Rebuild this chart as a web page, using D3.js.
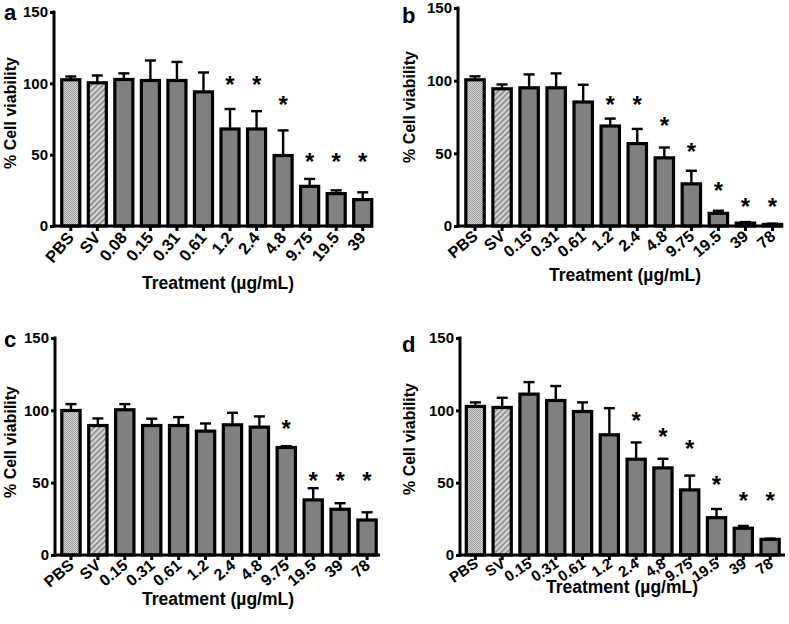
<!DOCTYPE html>
<html>
<head>
<meta charset="utf-8">
<script src="https://cdn.jsdelivr.net/npm/d3@7"></script>
<style>
  body { margin: 0; background: #fff; }
  svg { display: block; }
</style>
</head>
<body>
<script>
// ---- data ----
const yTicks = [0, 50, 100, 150]

const catsA = ['PBS', 'SV', '0.08', '0.15', '0.31', '0.61', '1.2', '2.4', '4.8', '9.75', '19.5', '39']
const meansA = [102.5, 100.4, 102.7, 102, 102, 94, 68, 68, 49.4, 27.8, 22.7, 18.5]
const errsA = [2.3, 5.1, 4.3, 14, 13, 13.6, 14, 12.5, 17.6, 5.2, 2.3, 5.1]
const starsA = [null, null, null, null, null, null, 102.5, 102.5, 88.6, 48.7, 48.7, 48.7]

const catsB = ['PBS', 'SV', '0.15', '0.31', '0.61', '1.2', '2.4', '4.8', '9.75', '19.5', '39', '78']
const meansB = [100.6, 94.4, 95.1, 95.1, 85.3, 68.8, 56.7, 46.9, 29, 8.7, 2, 1.1]
const errsB = [2.4, 3, 9.2, 9.9, 11.9, 5.1, 10.1, 7.1, 9, 1.8, 0.7, 0.5]
const starsB = [null, null, null, null, null, 86.9, 86.9, 72.7, 55, 28.1, 17.1, 17.1]

const catsC = ['PBS', 'SV', '0.15', '0.31', '0.61', '1.2', '2.4', '4.8', '9.75', '19.5', '39', '78']
const meansC = [99.9, 89.5, 100.4, 89.5, 89.5, 85.6, 90, 88.4, 74.3, 38.1, 31.6, 24.2]
const errsC = [4.4, 4.9, 3.9, 4.7, 5.8, 5.3, 8.3, 7.4, 0.9, 8.1, 4.2, 5.3]
const starsC = [null, null, null, null, null, null, null, null, 91.2, 54.7, 54.7, 54.7]

const catsD = ['PBS', 'SV', '0.15', '0.31', '0.61', '1.2', '2.4', '4,8', '9.75', '19.5', '39', '78']
const meansD = [102.7, 102, 111.2, 106.8, 99.2, 83.1, 66.2, 60.2, 45, 25.8, 18.5, 10.8]
const errsD = [2.8, 6.7, 8.3, 10, 6.3, 18.4, 11.6, 6.3, 9.9, 6, 1.6, 0.5]
const starsD = [null, null, null, null, null, null, 96.2, 85.4, 76.8, 51.9, 41.1, 41.1]

const font = "'Liberation Sans', Arial, Helvetica, sans-serif"

const svg = d3.select('body')
  .append('svg')
  .attr('width', 789)
  .attr('height', 624)
  .style('font-family', font)
  .style('font-weight', 'bold')

svg.append('rect').attr('width', 789).attr('height', 624).attr('fill', '#fff')

// fill patterns for the two control bars
const defs = svg.append('defs')
const checker = defs.append('pattern')
  .attr('id', 'checker')
  .attr('patternUnits', 'userSpaceOnUse')
  .attr('width', 2).attr('height', 2)
checker.append('rect').attr('width', 2).attr('height', 2).attr('fill', '#d4d4d4')
checker.append('rect').attr('width', 1).attr('height', 1).attr('fill', '#9c9c9c')
checker.append('rect').attr('x', 1).attr('y', 1).attr('width', 1).attr('height', 1).attr('fill', '#9c9c9c')

const hatch = defs.append('pattern')
  .attr('id', 'hatch')
  .attr('patternUnits', 'userSpaceOnUse')
  .attr('width', 4).attr('height', 4)
  .attr('patternTransform', 'rotate(45)')
hatch.append('rect').attr('width', 4).attr('height', 4).attr('fill', '#d6d6d6')
hatch.append('rect').attr('width', 1.6).attr('height', 4).attr('fill', '#858585')

function drawPanel(p) {
  const data = p.cats.map((c, i) => ({ cat: c, mean: p.means[i], err: p.errs[i], star: p.stars[i] }))

  const y = d3.scaleLinear().domain([0, 150]).range([p.y0, p.y150])
  const x = d3.scaleBand()
    .domain(p.cats)
    .range(p.xRange)
    .paddingInner(0.32)
    .paddingOuter(0.16)
  const cx = d => x(d) + x.bandwidth() / 2

  const g = svg.append('g')

  // bars
  g.selectAll('rect.bar')
    .data(data)
    .enter()
    .append('rect')
    .attr('class', 'bar')
    .attr('x', d => x(d.cat))
    .attr('width', x.bandwidth())
    .attr('y', d => y(d.mean))
    .attr('height', d => y(0) - y(d.mean))
    .attr('fill', (d, i) => i === 0 ? 'url(#checker)' : i === 1 ? 'url(#hatch)' : '#808080')
    .attr('stroke', '#000')
    .attr('stroke-width', 3.2)

  // upper error bars
  const eb = g.selectAll('g.err')
    .data(data)
    .enter()
    .append('g')
    .attr('class', 'err')
    .attr('stroke', '#000')
    .attr('stroke-width', 2.4)
  eb.append('line')
    .attr('x1', d => cx(d.cat))
    .attr('x2', d => cx(d.cat))
    .attr('y1', d => y(d.mean))
    .attr('y2', d => y(d.mean + d.err))
  eb.append('line')
    .attr('x1', d => cx(d.cat) - 5.5)
    .attr('x2', d => cx(d.cat) + 5.5)
    .attr('y1', d => y(d.mean + d.err))
    .attr('y2', d => y(d.mean + d.err))

  // significance stars
  g.selectAll('text.star')
    .data(data.filter(d => d.star != null))
    .enter()
    .append('text')
    .attr('class', 'star')
    .attr('x', d => cx(d.cat))
    .attr('y', d => y(d.star) + 13.5)
    .attr('text-anchor', 'middle')
    .style('font-size', '24px')
    .text('*')

  // y axis
  const yAxis = d3.axisLeft(y)
    .tickValues(yTicks)
    .tickSize(4)
    .tickPadding(2)
  const ya = g.append('g')
    .attr('transform', `translate(${p.axisX},0)`)
    .call(yAxis)
  ya.select('.domain').remove()
  ya.append('line')
    .attr('y1', y(0) + 1.5).attr('y2', y(150) - 1.5)
    .attr('stroke', '#000').attr('stroke-width', 3)
  ya.selectAll('.tick line').attr('stroke', '#000').attr('stroke-width', 3)
  ya.selectAll('.tick text')
    .attr('fill', '#000')
    .style('font-size', '15px')
    .style('font-family', font)
    .style('font-weight', 'bold')

  // x axis
  const xAxis = d3.axisBottom(x).tickSize(5).tickFormat('')
  const xa = g.append('g')
    .attr('transform', `translate(0,${p.y0})`)
    .call(xAxis)
  xa.select('.domain').remove()
  xa.append('line')
    .attr('x1', p.axisX - 1.5).attr('x2', p.axisEnd)
    .attr('stroke', '#000').attr('stroke-width', 3)
  xa.selectAll('.tick line').attr('stroke', '#000').attr('stroke-width', 3)

  g.selectAll('text.xlab')
    .data(p.cats)
    .enter()
    .append('text')
    .attr('class', 'xlab')
    .attr('transform', d => `translate(${cx(d) + 4},${p.y0 + p.labDy}) rotate(${p.labAngle})`)
    .attr('text-anchor', 'end')
    .style('font-size', p.labSize + 'px')
    .text(d => d)

  // titles
  g.append('text')
    .attr('transform', `translate(${p.yTitle[0]},${p.yTitle[1]}) rotate(-90)`)
    .attr('text-anchor', 'middle')
    .style('font-size', '16px')
    .text('% Cell viability')

  g.append('text')
    .attr('x', p.xTitle[0])
    .attr('y', p.xTitle[1])
    .attr('text-anchor', 'middle')
    .style('font-size', '17.5px')
    .text('Treatment (µg/mL)')

  g.append('text')
    .attr('x', p.letterPos[0])
    .attr('y', p.letterPos[1])
    .style('font-size', '22px')
    .text(p.letter)
}

const panels = [
  { letter: 'a', cats: catsA, means: meansA, errs: errsA, stars: starsA,
    axisX: 54, axisEnd: 373, y0: 226, y150: 12, xRange: [57.5, 376],
    labAngle: -50, labSize: 16.5, labDy: 12,
    yTitle: [15.5, 113], xTitle: [218, 289], letterPos: [4, 20] },
  { letter: 'b', cats: catsB, means: meansB, errs: errsB, stars: starsB,
    axisX: 458, axisEnd: 782, y0: 226, y150: 8, xRange: [461.5, 786],
    labAngle: -40, labSize: 16, labDy: 12,
    yTitle: [415, 107], xTitle: [625, 281], letterPos: [402, 23] },
  { letter: 'c', cats: catsC, means: meansC, errs: errsC, stars: starsC,
    axisX: 55, axisEnd: 380, y0: 555, y150: 338, xRange: [57.5, 380.5],
    labAngle: -40, labSize: 16, labDy: 12,
    yTitle: [15.5, 442], xTitle: [218, 605], letterPos: [4, 347] },
  { letter: 'd', cats: catsD, means: meansD, errs: errsD, stars: starsD,
    axisX: 460, axisEnd: 785, y0: 555, y150: 338, xRange: [462, 783.5],
    labAngle: -34, labSize: 15, labDy: 11,
    yTitle: [415, 439], xTitle: [622, 593], letterPos: [402, 352] }
]

panels.forEach(drawPanel)
</script>
</body>
</html>
